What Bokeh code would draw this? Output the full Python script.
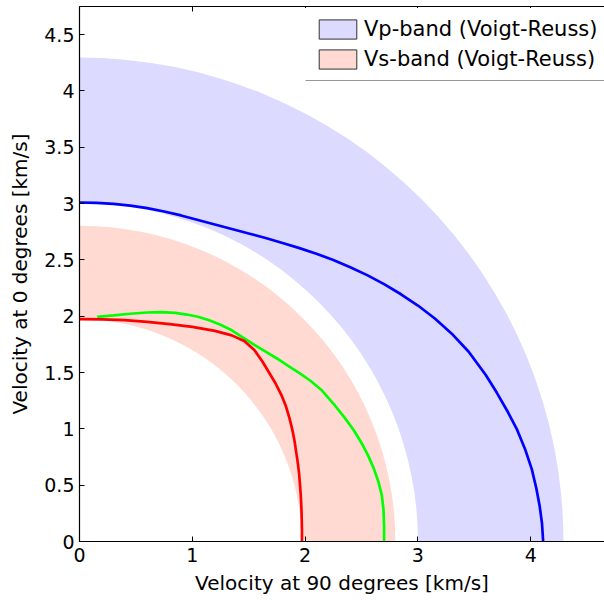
import numpy as np
from bokeh.plotting import figure
from bokeh.models import (Range1d, FixedTicker, LinearAxis, Legend, LegendItem,
                          BoxAnnotation)
from bokeh.embed import file_html
from bokeh.resources import INLINE

FONT = "DejaVu Sans"

# ---- ticks ----
x_ticks = [0, 1, 2, 3, 4]
x_tick_labels = ["0", "1", "2", "3", "4"]
y_ticks = [0, 0.5, 1, 1.5, 2, 2.5, 3, 3.5, 4, 4.5]
y_tick_labels = ["0", "0.5", "1", "1.5", "2", "2.5", "3", "3.5", "4", "4.5"]

# ---- bounds bands (Voigt-Reuss) ----
band_names = ["Vp-band (Voigt-Reuss)", "Vs-band (Voigt-Reuss)"]
band_inner = [3.00, 1.97]
band_outer = [4.29, 2.80]
band_colors = ["#DCDAFF", "#FFDAD2"]

# ---- velocity curves ----
vp_x = [0.00, 0.15, 0.30, 0.45, 0.60, 0.75, 0.90, 1.05, 1.20, 1.35, 1.50,
        1.65, 1.80, 1.95, 2.10, 2.25, 2.40, 2.55, 2.70, 2.85, 3.00, 3.15,
        3.30, 3.45, 3.60, 3.70, 3.80, 3.88, 3.95, 4.01, 4.05, 4.08, 4.10, 4.11]
vp_y = [3.01, 3.007, 2.998, 2.982, 2.96, 2.93, 2.895, 2.855, 2.815, 2.775, 2.735,
        2.695, 2.65, 2.605, 2.555, 2.50, 2.435, 2.365, 2.285, 2.195, 2.095, 1.98,
        1.845, 1.685, 1.48, 1.32, 1.145, 0.99, 0.82, 0.64, 0.47, 0.31, 0.16, 0.00]

vs1_x = [0.157, 0.30, 0.45, 0.60, 0.72, 0.85, 0.95, 1.05, 1.15, 1.25, 1.35,
         1.45, 1.55, 1.65, 1.75, 1.85, 1.95, 2.05, 2.15, 2.25, 2.35, 2.43,
         2.50, 2.56, 2.61, 2.65, 2.68, 2.695, 2.70, 2.70]
vs1_y = [1.995, 2.008, 2.022, 2.033, 2.036, 2.03, 2.015, 1.995, 1.965, 1.925, 1.875,
         1.81, 1.745, 1.685, 1.625, 1.56, 1.495, 1.425, 1.34, 1.225, 1.10, 0.99,
         0.875, 0.76, 0.645, 0.53, 0.41, 0.28, 0.14, 0.00]

vs2_x = [0.00, 0.20, 0.40, 0.60, 0.80, 1.00, 1.20, 1.35, 1.46, 1.55, 1.62,
         1.68, 1.74, 1.79, 1.83, 1.86, 1.885, 1.905, 1.92, 1.935, 1.947,
         1.955, 1.962, 1.967, 1.970, 1.972, 1.972]
vs2_y = [1.975, 1.973, 1.965, 1.95, 1.93, 1.905, 1.87, 1.83, 1.78, 1.70, 1.60,
         1.50, 1.40, 1.30, 1.20, 1.10, 1.00, 0.90, 0.80, 0.70, 0.60,
         0.50, 0.40, 0.30, 0.20, 0.10, 0.00]

p = figure(width=604, height=601, output_backend="svg", toolbar_location=None,
           x_range=Range1d(0, 4.654), y_range=Range1d(0, 4.75),
           min_border_left=79, min_border_right=0, min_border_top=6,
           min_border_bottom=60,
           x_axis_label="Velocity at 90 degrees [km/s]",
           y_axis_label="Velocity at 0 degrees [km/s]")
p.grid.visible = False
p.outline_line_color = None
p.background_fill_color = "white"
p.border_fill_color = "white"

legend_items = []
for name, ri, ro, col in zip(band_names, band_inner, band_outer, band_colors):
    p.annular_wedge(x=0, y=0, inner_radius=ri, outer_radius=ro,
                    start_angle=0, end_angle=np.pi / 2,
                    fill_color=col, line_color=None)
    proxy = p.rect(x=[0], y=[0], width=0, height=0, fill_color=col,
                   line_color="#303030", line_width=1)
    legend_items.append(LegendItem(label=name, renderers=[proxy]))

p.line(vp_x, vp_y, line_color="#0000FF", line_width=2.7)
p.line(vs1_x, vs1_y, line_color="#00FF00", line_width=2.7)
p.line(vs2_x, vs2_y, line_color="#FF0000", line_width=2.7)

for ax in (p.xaxis[0], p.yaxis[0]):
    ax.major_tick_in = 5
    ax.major_tick_out = 0
    ax.minor_tick_in = 0
    ax.minor_tick_out = 0
    ax.axis_line_color = "black"
    ax.axis_line_width = 1.2
    ax.major_tick_line_color = "black"
    ax.major_label_text_font = FONT
    ax.major_label_text_font_size = "19px"
    ax.major_label_text_color = "black"
    ax.axis_label_text_font = FONT
    ax.axis_label_text_font_size = "20px"
    ax.axis_label_text_font_style = "normal"
    ax.axis_label_text_color = "black"

p.xaxis[0].ticker = FixedTicker(ticks=x_ticks)
p.xaxis[0].major_label_overrides = dict(zip(x_ticks, x_tick_labels))
p.xaxis[0].major_label_standoff = 6
p.xaxis[0].axis_label_standoff = 6
p.yaxis[0].ticker = FixedTicker(ticks=y_ticks)
p.yaxis[0].major_label_overrides = dict(zip(y_ticks, y_tick_labels))
p.yaxis[0].major_label_standoff = 5
p.yaxis[0].axis_label_standoff = 9

top = LinearAxis(ticker=FixedTicker(ticks=x_ticks),
                 major_label_overrides={t: "" for t in x_ticks},
                 major_label_text_font_size="1px",
                 major_tick_in=5, major_tick_out=0, minor_tick_in=0, minor_tick_out=0,
                 major_label_standoff=0, axis_line_color="black", axis_line_width=1.2,
                 major_tick_line_color="black")
p.add_layout(top, "above")

legend = Legend(items=legend_items, location=(226, 461),
                label_text_font=FONT, label_text_font_size="21px",
                label_text_color="black",
                glyph_width=47, glyph_height=24, label_height=24,
                label_standoff=3, spacing=6, padding=9, margin=0,
                border_line_alpha=0, background_fill_color="white",
                background_fill_alpha=1)
p.add_layout(legend)

p.add_layout(BoxAnnotation(left=226, right=700, bottom=461, top=462,
                           left_units="screen", right_units="screen",
                           bottom_units="screen", top_units="screen",
                           fill_color="#303030", fill_alpha=1, line_color=None))

open("out.html", "w").write(file_html(p, INLINE))
